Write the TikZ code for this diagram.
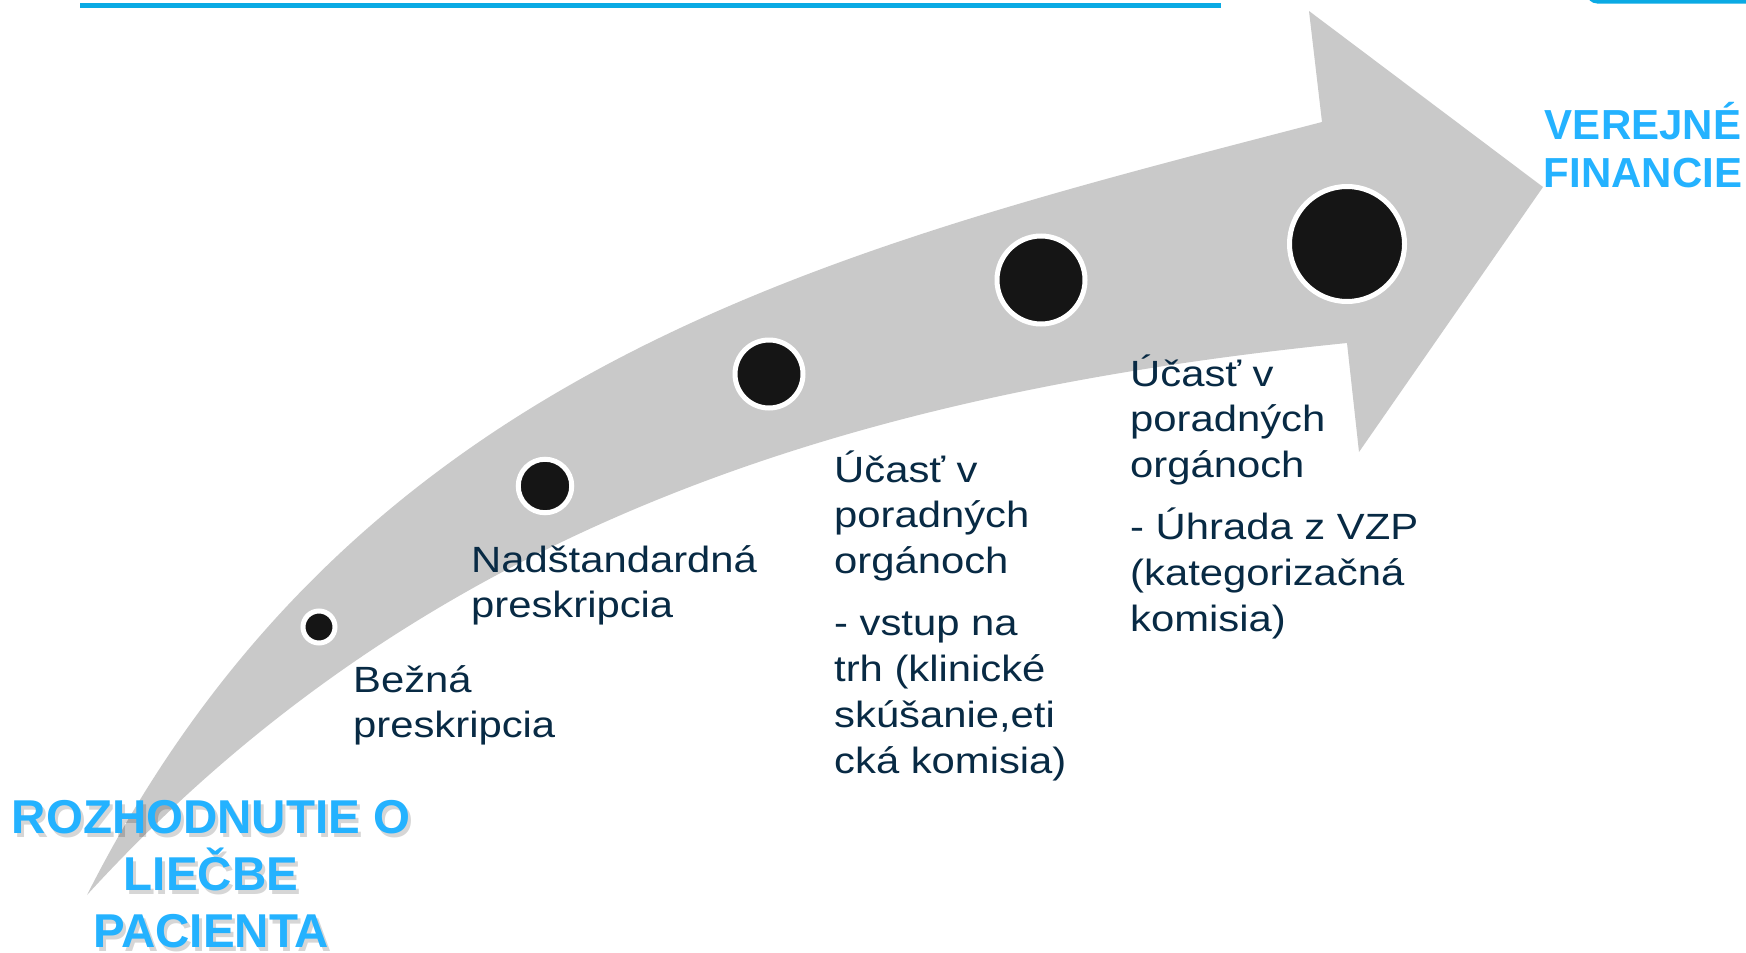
\documentclass[tikz,border=0pt]{standalone}
\usepackage{fontspec}
\newfontfamily\bodyfont{Liberation Sans}[FakeStretch=1.145]
\newfontfamily\titlefont{Liberation Sans}
\definecolor{arrowgray}{RGB}{201,201,201}
\definecolor{dotblack}{RGB}{21,21,21}
\definecolor{navy}{RGB}{8,42,68}
\definecolor{titleblue}{RGB}{36,178,255}
\definecolor{topblue}{RGB}{10,170,228}
\begin{document}
\begin{tikzpicture}[x=1pt,y=-1pt,
  body/.style={font=\bodyfont\fontsize{36.5}{45.8}\selectfont, text=navy, inner sep=0pt, anchor=base west},
  bigtitle/.style={font=\titlefont\bfseries\fontsize{47.5}{57}\selectfont, inner sep=0pt, anchor=base},
  sidetitle/.style={font=\titlefont\bfseries\fontsize{42}{48}\selectfont, text=titleblue, inner sep=0pt, anchor=base},
  dotmark/.style={circle, fill=dotblack, draw=white, line width=5pt, inner sep=0pt}]
\useasboundingbox (0,0) rectangle (1746,953);
\fill[white] (0,0) rectangle (1746,953);
% top decorations
\draw[topblue, line width=5.3pt] (80,5.7) -- (1221,5.7);
\fill[topblue, rounded corners=10pt] (1587,-30) rectangle (1780,3.5);
% curved arrow
\fill[arrowgray] (87,895) .. controls (357,361) and (838,248) .. (1322,122)
  -- (1309,11) -- (1543,187) -- (1359,452) -- (1347,343)
  .. controls (850,393) and (422,528) .. (87,895) -- cycle;
% dots
\node[dotmark, minimum size=32pt] (d1) at (319,627) {};
\node[dotmark, minimum size=53.5pt] (d2) at (545,486) {};
\node[dotmark, minimum size=68pt] (d3) at (769,374) {};
\node[dotmark, minimum size=88pt] (d4) at (1041,280) {};
\node[dotmark, minimum size=115pt] (d5) at (1347,244) {};
% body texts
\node[body] (t1) at (353,692) {\vtop{\hbox{Bežná}\hbox{preskripcia}}};
\node[body] (t2) at (471,572) {\vtop{\hbox{Nadštandardná}\hbox{preskripcia}}};
\node[body] (t3) at (834,482) {\vtop{\hbox{Účasť v}\hbox{poradných}\hbox{orgánoch}\kern16.5pt\hbox{- vstup na}\hbox{trh (klinické}\hbox{skúšanie,eti}\hbox{cká komisia)}}};
\node[body] (t4) at (1130,386) {\vtop{\hbox{Účasť v}\hbox{poradných}\hbox{orgánoch}\kern16.5pt\hbox{- Úhrada z VZP}\hbox{(kategorizačná}\hbox{komisia)}}};
% titles
\node[sidetitle] (fin) at (1643,139) {\vtop{\halign{\hfil#\hfil\cr VEREJNÉ\cr FINANCIE\cr}}};
\node[bigtitle, text=black, opacity=0.16] (rozsh) at (214,837) {\vtop{\halign{\hfil#\hfil\cr ROZHODNUTIE O\cr LIEČBE\cr PACIENTA\cr}}};
\node[bigtitle, text=titleblue] (roz) at (211,833) {\vtop{\halign{\hfil#\hfil\cr ROZHODNUTIE O\cr LIEČBE\cr PACIENTA\cr}}};
\end{tikzpicture}
\end{document}
